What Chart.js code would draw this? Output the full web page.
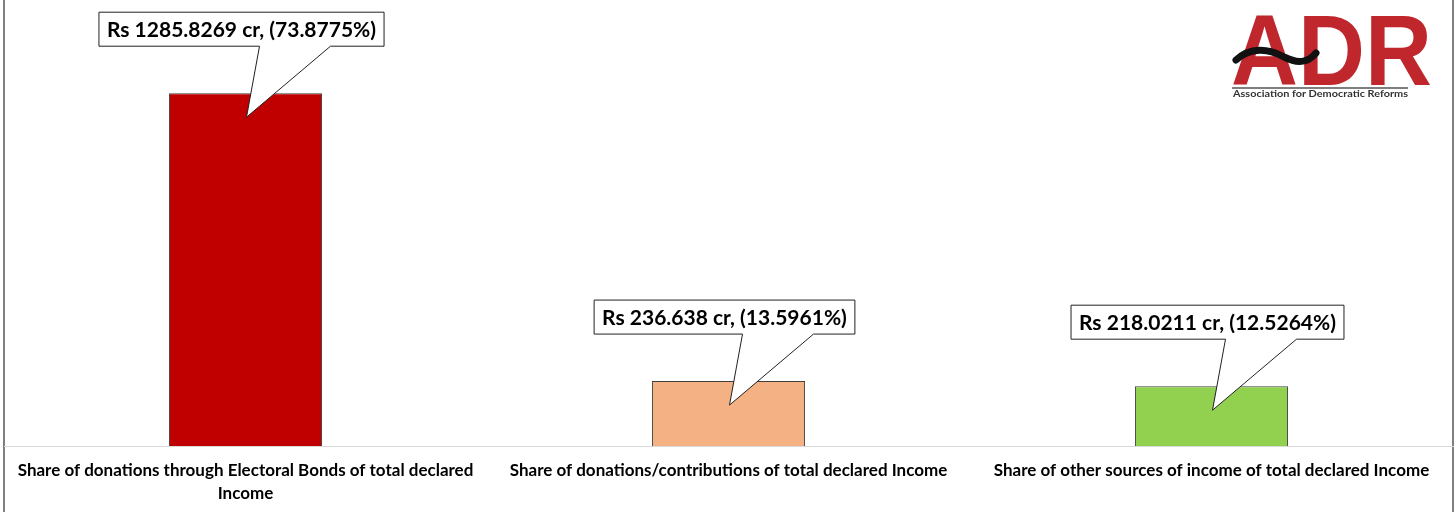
<!DOCTYPE html>
<html>
<head>
<meta charset="utf-8">
<script src="https://cdn.jsdelivr.net/npm/chart.js"></script>
<style>
  body { margin: 0; background: #fff; }
  #wrap { position: relative; width: 1455px; height: 512px; }
  #logo { position: absolute; left: 0; top: 0; pointer-events: none; }
</style>
</head>
<body>
<div id="wrap">
  <canvas id="incomeChart" width="1455" height="512"></canvas>
  <svg id="logo" width="1455" height="512">
    <text x="1231" y="85" textLength="201" lengthAdjust="spacingAndGlyphs"
          font-family="Liberation Sans, Arial, sans-serif" font-weight="bold" font-size="100" fill="#c0272d">ADR</text>
    <path d="M1236 60 C1250 47 1268 48 1284 57 C1298 64 1308 63 1316 53" stroke="#111" stroke-width="7" fill="none" stroke-linecap="round"/>
    <line x1="1232" y1="88" x2="1408" y2="88" stroke="#555" stroke-width="1.5"/>
    <text x="1233" y="97" textLength="175" lengthAdjust="spacingAndGlyphs"
          font-family="Lato, sans-serif" font-weight="bold" font-size="9" fill="#333">Association for Democratic Reforms</text>
  </svg>
</div>
<script>
const categories = [
  ['Share of donations through Electoral Bonds of total declared', 'Income'],
  'Share of donations/contributions of total declared Income',
  'Share of other sources of income of total declared Income'
];
const amounts = [1285.8269, 236.638, 218.0211];
const shares = [73.8775, 13.5961, 12.5264];
const calloutLabels = amounts.map((a, i) => 'Rs ' + a + ' cr, (' + shares[i] + '%)');
const barColors = ['#c00000', '#f4b183', '#92d050'];

const frame = {
  id: 'frame',
  beforeDraw(chart) {
    const ctx = chart.ctx;
    ctx.save();
    ctx.fillStyle = '#fff';
    ctx.fillRect(0, 0, chart.width, chart.height);
    ctx.strokeStyle = '#7f7f7f';
    ctx.lineWidth = 2;
    ctx.beginPath();
    ctx.moveTo(4, 0); ctx.lineTo(4, chart.height);
    ctx.moveTo(1453, 0); ctx.lineTo(1453, chart.height);
    ctx.stroke();
    ctx.restore();
  }
};

const callouts = {
  id: 'callouts',
  afterDatasetsDraw(chart) {
    const ctx = chart.ctx;
    const bars = chart.getDatasetMeta(0).data;
    ctx.save();
    ctx.font = 'bold 21px Lato, sans-serif';
    bars.forEach((bar, i) => {
      const text = calloutLabels[i];
      const w = ctx.measureText(text).width + 16;
      const h = 34;
      const cx = bar.x - 4;
      const left = cx - w / 2, right = cx + w / 2;
      const top = bar.y - 81, bottom = top + h;
      const tipX = bar.x + 1, tipY = bar.y + 24;
      ctx.beginPath();
      ctx.moveTo(left, top);
      ctx.lineTo(right, top);
      ctx.lineTo(right, bottom);
      ctx.lineTo(bar.x + 85, bottom);
      ctx.lineTo(tipX, tipY);
      ctx.lineTo(bar.x + 14, bottom);
      ctx.lineTo(left, bottom);
      ctx.closePath();
      ctx.fillStyle = '#fff';
      ctx.fill();
      ctx.strokeStyle = '#222';
      ctx.lineWidth = 1;
      ctx.stroke();
      ctx.fillStyle = '#000';
      ctx.textAlign = 'center';
      ctx.textBaseline = 'middle';
      ctx.fillText(text, cx, top + h / 2 + 1);
    });
    ctx.restore();
  }
};

new Chart(document.getElementById('incomeChart'), {
  type: 'bar',
  data: {
    labels: categories,
    datasets: [{
      data: amounts,
      backgroundColor: barColors,
      borderColor: '#404040',
      borderWidth: 1,
      borderSkipped: 'bottom',
      categoryPercentage: 1,
      barPercentage: 0.317
    }]
  },
  options: {
    responsive: false,
    animation: false,
    layout: { padding: { left: 4, right: 2, top: 7 } },
    plugins: { legend: { display: false }, tooltip: { enabled: false } },
    scales: {
      y: { display: false, min: 0, max: 1600 },
      x: {
        grid: { display: false, drawTicks: false },
        border: { display: true, color: '#d9d9d9', width: 1 },
        ticks: {
          color: '#000',
          padding: 13,
          maxRotation: 0,
          autoSkip: false,
          font: { family: 'Lato, sans-serif', size: 17, weight: 'bold', lineHeight: 1.35 }
        },
        afterFit(scale) { scale.height = 66; }
      }
    }
  },
  plugins: [frame, callouts]
});
</script>
</body>
</html>
